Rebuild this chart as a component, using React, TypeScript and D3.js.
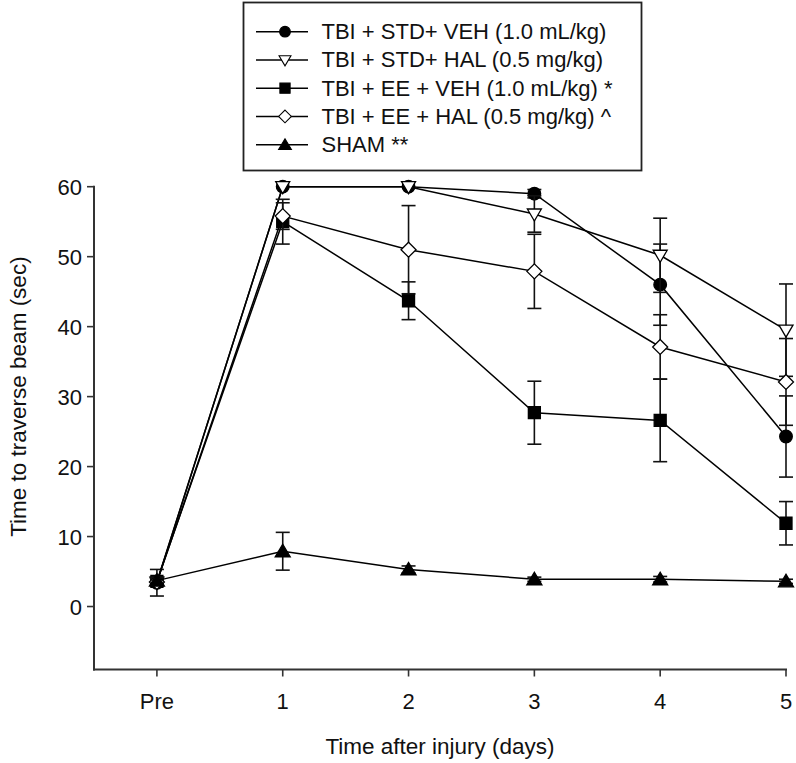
import React from "react";
import * as d3 from "d3";

const categories = ["Pre", "1", "2", "3", "4", "5"];
const xValues = [0, 1, 2, 3, 4, 5];
const yTicks = [0, 10, 20, 30, 40, 50, 60];

const seriesNames = [
  "TBI + STD+ VEH (1.0 mL/kg)",
  "TBI + STD+ HAL (0.5 mg/kg)",
  "TBI + EE + VEH (1.0 mL/kg) *",
  "TBI + EE + HAL (0.5 mg/kg) ^",
  "SHAM **",
];
const seriesSymbols = ["circle", "triangleDown", "square", "diamond", "triangleUp"];
const seriesFilled = [true, false, true, false, true];

const stdVehMean = [3.4, 60, 60, 59.0, 46.0, 24.3];
const stdVehErr = [1.9, 0, 0, 0.6, 5.8, 5.8];
const stdHalMean = [3.5, 60, 60, 56.1, 50.2, 39.5];
const stdHalErr = [0.5, 0, 0, 2.6, 5.3, 6.6];
const eeVehMean = [3.6, 55.0, 43.7, 27.7, 26.6, 11.9];
const eeVehErr = [0.5, 3.2, 2.7, 4.5, 5.9, 3.1];
const eeHalMean = [3.5, 55.8, 51.0, 47.9, 37.1, 32.1];
const eeHalErr = [0.5, 1.9, 6.3, 5.3, 4.6, 6.2];
const shamMean = [3.7, 7.9, 5.3, 3.9, 3.9, 3.6];
const shamErr = [0.5, 2.7, 0.5, 0.3, 0.4, 0.3];

const means = [stdVehMean, stdHalMean, eeVehMean, eeHalMean, shamMean];
const errs = [stdVehErr, stdHalErr, eeVehErr, eeHalErr, shamErr];

const FONT = "'Liberation Sans', Arial, Helvetica, sans-serif";

function symbolPath(kind: string): string {
  switch (kind) {
    case "circle":
      return d3.symbol(d3.symbolCircle, 125)() as string;
    case "square":
      return "M-6,-6L6,-6L6,6L-6,6Z";
    case "diamond":
      return "M0,-7.5L7.5,0L0,7.5L-7.5,0Z";
    case "triangleDown":
      return "M-7,-5L7,-5L0,7Z";
    case "triangleUp":
      return "M-7.5,5.5L7.5,5.5L0,-7Z";
  }
  return "";
}

export default function App() {
  const width = 796;
  const height = 763;
  const x = d3.scaleLinear().domain([-0.5, 5]).range([94, 786]);
  const y = d3.scaleLinear().domain([-9, 60]).range([669.5, 186.7]);
  const line = d3
    .line<number>()
    .x((_, i) => x(xValues[i]))
    .y((d) => y(d));

  const axisColor = "#333";
  const capHalf = 7;

  return (
    <svg
      width={width}
      height={height}
      style={{ position: "absolute", left: 0, top: 0, background: "#fff" }}
    >
      <rect x={0} y={0} width={width} height={height} fill="#fff" />
      {/* axes */}
      <line x1={x(-0.5)} x2={x(-0.5)} y1={y(60) - 1} y2={y(-9) + 1} stroke={axisColor} strokeWidth={2} />
      <line x1={x(-0.5) - 1} x2={x(5) + 1} y1={y(-9)} y2={y(-9)} stroke={axisColor} strokeWidth={2} />
      {yTicks.map((t) => (
        <g key={"yt" + t}>
          <line x1={x(-0.5) - 7} x2={x(-0.5)} y1={y(t)} y2={y(t)} stroke={axisColor} strokeWidth={1.6} />
          <text x={x(-0.5) - 12} y={y(t) + 8} textAnchor="end" fontFamily={FONT} fontSize={22} fill="#111">
            {t}
          </text>
        </g>
      ))}
      {xValues.map((v, i) => (
        <g key={"xt" + v}>
          <line x1={x(v)} x2={x(v)} y1={y(-9)} y2={y(-9) + 7} stroke={axisColor} strokeWidth={1.6} />
          <text x={x(v)} y={709} textAnchor="middle" fontFamily={FONT} fontSize={22} fill="#111">
            {categories[i]}
          </text>
        </g>
      ))}
      <text x={440} y={754} textAnchor="middle" fontFamily={FONT} fontSize={22.5} fill="#111">
        Time after injury (days)
      </text>
      <text
        transform={`translate(26, ${(y(0) + y(60)) / 2}) rotate(-90)`}
        textAnchor="middle"
        fontFamily={FONT}
        fontSize={22.5}
        fill="#111"
      >
        Time to traverse beam (sec)
      </text>

      {/* series */}
      {means.map((m, s) => (
        <g key={"s" + s}>
          {m.map((v, i) =>
            errs[s][i] > 0 ? (
              <g key={"e" + i} stroke="#111" strokeWidth={1.6}>
                <line x1={x(xValues[i])} x2={x(xValues[i])} y1={y(v + errs[s][i])} y2={y(v - errs[s][i])} />
                <line x1={x(xValues[i]) - capHalf} x2={x(xValues[i]) + capHalf} y1={y(v + errs[s][i])} y2={y(v + errs[s][i])} />
                <line x1={x(xValues[i]) - capHalf} x2={x(xValues[i]) + capHalf} y1={y(v - errs[s][i])} y2={y(v - errs[s][i])} />
              </g>
            ) : null
          )}
          <path d={line(m) as string} fill="none" stroke="#000" strokeWidth={1.5} />
          {m.map((v, i) => (
            <path
              key={"m" + i}
              d={symbolPath(seriesSymbols[s])}
              transform={`translate(${x(xValues[i])},${y(v)})`}
              fill={seriesFilled[s] ? "#000" : "#fff"}
              stroke="#000"
              strokeWidth={1.3}
            />
          ))}
        </g>
      ))}

      {/* legend */}
      <rect x={243.5} y={2.5} width={398} height={168} fill="#fff" stroke="#222" strokeWidth={1.8} />
      {seriesNames.map((name, s) => {
        const ly = 31.7 + s * 28.25;
        return (
          <g key={"l" + s}>
            <line x1={256} x2={308} y1={ly} y2={ly} stroke="#000" strokeWidth={1.5} />
            <path
              d={symbolPath(seriesSymbols[s])}
              transform={`translate(285,${ly}) scale(0.85)`}
              fill={seriesFilled[s] ? "#000" : "#fff"}
              stroke="#000"
              strokeWidth={1.3}
            />
            <text x={321.5} y={ly + 7.5} fontFamily={FONT} fontSize={22} fill="#111">
              {name}
            </text>
          </g>
        );
      })}
    </svg>
  );
}
